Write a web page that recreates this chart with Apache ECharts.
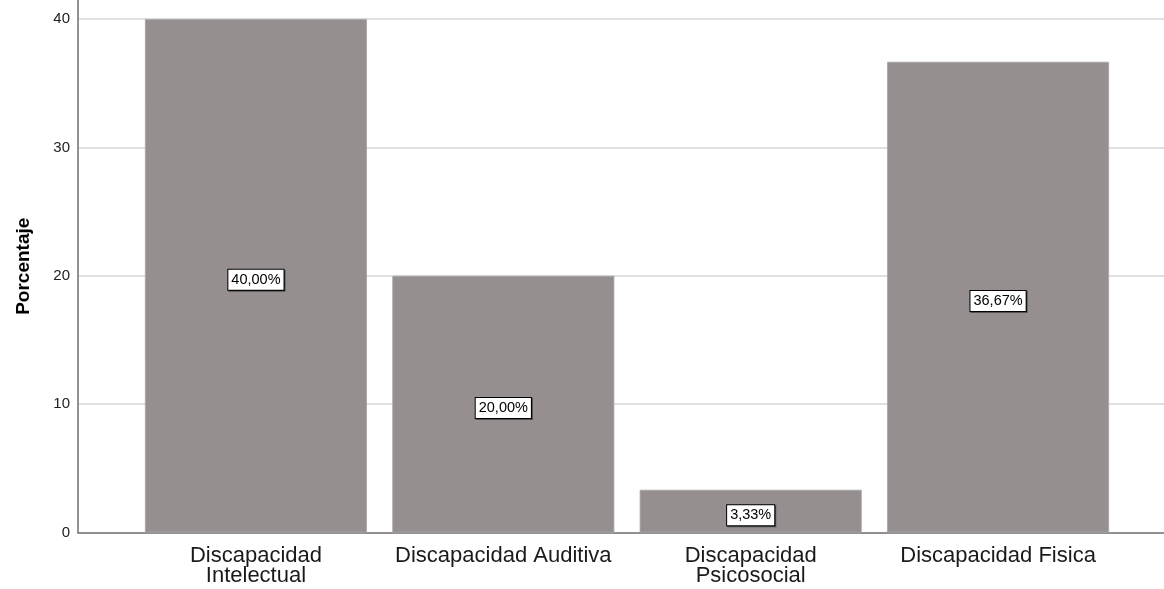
<!DOCTYPE html>
<html>
<head>
<meta charset="utf-8">
<script src="https://cdn.jsdelivr.net/npm/echarts@6/dist/echarts.min.js"></script>
<style>
html,body{margin:0;padding:0;background:#fff;}
#chart{width:1164px;height:589px;}
</style>
</head>
<body>
<div id="chart"></div>
<script>
const categories = ["Discapacidad\nIntelectual", "Discapacidad Auditiva", "Discapacidad\nPsicosocial", "Discapacidad Fisica"];
const percentages = [40.00, 20.00, 3.33, 36.67];
const yTicks = [0, 10, 20, 30, 40];
const yAxisTitle = "Porcentaje";

const yMax = 41.48;
const font = "'Liberation Sans', Arial, sans-serif";

const chart = echarts.init(document.getElementById('chart'));
chart.setOption({
  animation: false,
  backgroundColor: '#ffffff',
  grid: [
    {left: 78, right: 0, top: 0, bottom: 56.5},
    {left: 132.25, right: 42.25, top: 0, bottom: 56.5}
  ],
  xAxis: [
    {
      gridIndex: 0, type: 'value', min: 0, max: 1,
      axisLine: {show: true, lineStyle: {color: '#6e6e6e', width: 1.5}},
      axisTick: {show: false}, axisLabel: {show: false}, splitLine: {show: false}
    },
    {
      gridIndex: 1, type: 'category', data: categories,
      axisLine: {show: false}, axisTick: {show: false},
      axisLabel: {
        color: '#1a1a1a', fontFamily: font, fontSize: 22, lineHeight: 20,
        margin: 13, interval: 0, align: 'center'
      }
    }
  ],
  yAxis: [
    {
      gridIndex: 0, type: 'value', min: 0, max: yMax, interval: 10,
      name: yAxisTitle, nameLocation: 'middle', nameGap: 45,
      nameTextStyle: {fontFamily: font, fontSize: 19, fontWeight: 'bold', color: '#000'},
      axisLine: {show: true, lineStyle: {color: '#6e6e6e', width: 1.5}},
      axisTick: {show: false},
      axisLabel: {
        color: '#222', fontFamily: font, fontSize: 15, margin: 8,
        showMaxLabel: false,
        formatter: v => (yTicks.indexOf(v) >= 0 ? String(v) : '')
      },
      splitLine: {show: true, showMinLine: false, showMaxLine: false, lineStyle: {color: '#d6d6d6', width: 1.5}}
    },
    {
      gridIndex: 1, type: 'value', min: 0, max: yMax, interval: 10, show: false,
      splitLine: {show: false}
    }
  ],
  series: [{
    type: 'bar',
    xAxisIndex: 1, yAxisIndex: 1,
    data: percentages,
    barWidth: 222,
    itemStyle: {color: '#95908f', borderColor: '#a9a5a4', borderWidth: 0.8},
    label: {
      show: true, position: 'inside', offset: [0, 4],
      formatter: p => p.value.toFixed(2).replace('.', ',') + '%',
      fontFamily: font, fontSize: 14.5, color: '#000',
      backgroundColor: '#fff', borderColor: '#000', borderWidth: 1,
      padding: [3, 3, 2, 3],
      shadowColor: 'rgba(0,0,0,0.45)', shadowOffsetX: 1, shadowOffsetY: 1, shadowBlur: 0
    }
  }]
});
</script>
</body>
</html>
